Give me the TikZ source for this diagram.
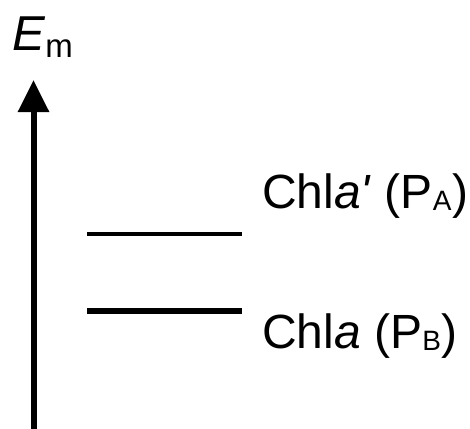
\documentclass[tikz,border=0pt]{standalone}
\usepackage{fontspec}
\setmainfont{Liberation Sans}
\usetikzlibrary{arrows.meta}
\tikzset{
  label text/.style={inner sep=0pt, anchor=base west, font=\fontsize{48}{52}\selectfont},
  level line/.style={line width=#1, line cap=butt},
  axis/.style={line width=6pt, -{Triangle[width=30pt,length=32pt]}},
}
\newcommand{\subtxt}[1]{{\fontsize{28}{30}\selectfont\raisebox{-2.5pt}{#1}}}
\begin{document}
\begin{tikzpicture}[x=1pt,y=-1pt]
  \useasboundingbox (0,0) rectangle (470,428);
  % energy axis
  \coordinate (axbot) at (33.5,430);
  \coordinate (axtop) at (33.5,80);
  \draw[axis] (axbot) -- (axtop);
  \node[inner sep=0pt, anchor=base west, font=\fontsize{49}{52}\selectfont] (em) at (12,50)
    {\textit{E}{\fontsize{33}{35}\selectfont\raisebox{-7pt}{m}}};
  % energy levels
  \coordinate (pa1) at (87,234);
  \coordinate (pa2) at (242,234);
  \coordinate (pb1) at (87,311);
  \coordinate (pb2) at (242,311);
  \draw[level line=4pt] (pa1) -- (pa2);
  \draw[level line=5.5pt] (pb1) -- (pb2);
  \node[label text] (pa) at (262,208) {Chl\textit{a\textquotesingle}\ (P\subtxt{A}\kern1pt)};
  \node[label text] (pb) at (262,348) {Chl\textit{a}\ (P\subtxt{B}\kern1pt)};
\end{tikzpicture}
\end{document}
